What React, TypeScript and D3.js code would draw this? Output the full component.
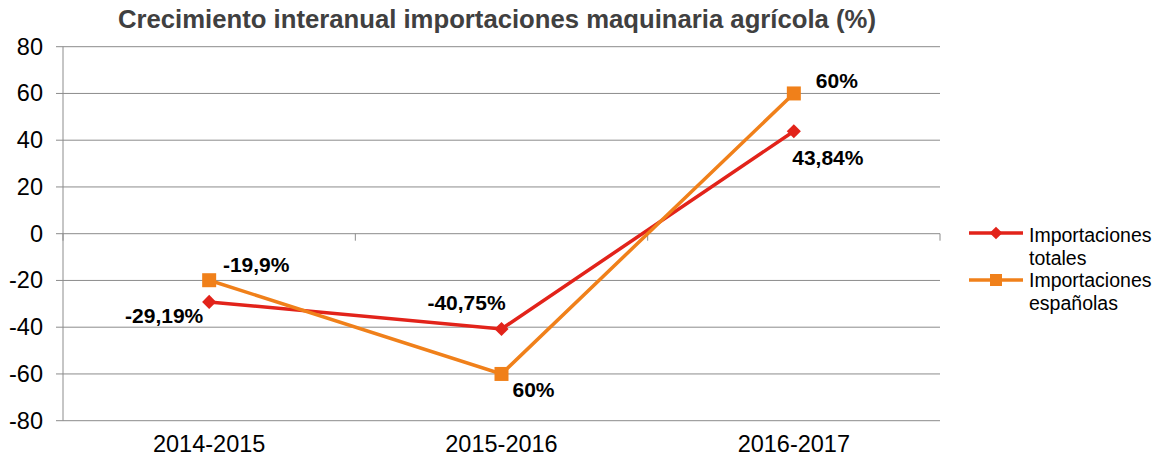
import React from "react";
import * as d3 from "d3";

const categories = ["2014-2015", "2015-2016", "2016-2017"];
const totales = [-29.19, -40.75, 43.84];
const espanolas = [-19.9, -60, 60];
const totalesLabels = ["-29,19%", "-40,75%", "43,84%"];
const espanolasLabels = ["-19,9%", "60%", "60%"];
const yTicks = [-80, -60, -40, -20, 0, 20, 40, 60, 80];
const title = "Crecimiento interanual importaciones maquinaria agrícola (%)";

const RED = "#e2231a";
const ORANGE = "#f0801a";
const GRID = "#8c8c8c";
const FONT = "'Liberation Sans', Arial, sans-serif";

export default function App() {
  const W = 1168, H = 459;
  const left = 63, right = 940, top = 46.7, bottom = 420.7;
  const x = d3.scaleBand<string>().domain(categories).range([left, right]).padding(0);
  const y = d3.scaleLinear().domain([-80, 80]).range([bottom, top]);
  const cx = (c: string) => (x(c) as number) + x.bandwidth() / 2;
  const line = d3.line<number>().x((_, i) => cx(categories[i])).y((v) => y(v));
  const boundaries = [left, ...categories.map((c) => (x(c) as number) + x.bandwidth())];

  const totOff = [
    { dx: -45, dy: 21 },
    { dx: -35, dy: -19 },
    { dx: 34, dy: 34 },
  ];
  const espOff = [
    { dx: 47, dy: -8 },
    { dx: 32, dy: 23 },
    { dx: 43, dy: -5 },
  ];

  return (
    <svg width={W} height={H} style={{ display: "block", position: "absolute", left: 0, top: 0 }}>
      <rect width={W} height={H} fill="#fff" />
      <text x={497} y={28} textAnchor="middle" fontFamily={FONT} fontWeight="bold" fontSize={25.7} fill="#404040">
        {title}
      </text>
      {yTicks.map((t) => (
        <g key={t}>
          <line x1={56} x2={right} y1={y(t)} y2={y(t)} stroke={GRID} strokeWidth={1} />
          <text x={43} y={y(t) + 8} textAnchor="end" fontFamily={FONT} fontSize={23.5} fill="#000">
            {t}
          </text>
        </g>
      ))}
      <line x1={left} x2={left} y1={top} y2={bottom} stroke={GRID} strokeWidth={1} />
      {boundaries.map((b, i) => (
        <line key={i} x1={b} x2={b} y1={y(0)} y2={y(0) + 7} stroke={GRID} strokeWidth={1} />
      ))}
      {categories.map((c) => (
        <text key={c} x={cx(c)} y={452} textAnchor="middle" fontFamily={FONT} fontSize={23.5} fill="#000">
          {c}
        </text>
      ))}
      <path d={line(totales) || ""} fill="none" stroke={RED} strokeWidth={3.5} />
      <path d={line(espanolas) || ""} fill="none" stroke={ORANGE} strokeWidth={3.5} />
      {totales.map((v, i) => (
        <rect key={i} x={-5} y={-5} width={10} height={10} fill={RED}
          transform={`translate(${cx(categories[i])},${y(v)}) rotate(45)`} />
      ))}
      {espanolas.map((v, i) => (
        <rect key={i} x={cx(categories[i]) - 7} y={y(v) - 7} width={14} height={14} fill={ORANGE} />
      ))}
      {totales.map((v, i) => (
        <text key={i} x={cx(categories[i]) + totOff[i].dx} y={y(v) + totOff[i].dy} textAnchor="middle"
          fontFamily={FONT} fontWeight="bold" fontSize={21} fill="#000">
          {totalesLabels[i]}
        </text>
      ))}
      {espanolas.map((v, i) => (
        <text key={i} x={cx(categories[i]) + espOff[i].dx} y={y(v) + espOff[i].dy} textAnchor="middle"
          fontFamily={FONT} fontWeight="bold" fontSize={21} fill="#000">
          {espanolasLabels[i]}
        </text>
      ))}
      <g>
        <line x1={969} x2={1023} y1={233} y2={233} stroke={RED} strokeWidth={3.5} />
        <rect x={-4.5} y={-4.5} width={9} height={9} fill={RED} transform={`translate(996,233) rotate(45)`} />
        <text x={1029} y={242} fontFamily={FONT} fontSize={19.5} fill="#000">Importaciones</text>
        <text x={1029} y={265} fontFamily={FONT} fontSize={19.5} fill="#000">totales</text>
        <line x1={969} x2={1023} y1={280} y2={280} stroke={ORANGE} strokeWidth={3.5} />
        <rect x={990} y={274} width={12} height={12} fill={ORANGE} />
        <text x={1029} y={287} fontFamily={FONT} fontSize={19.5} fill="#000">Importaciones</text>
        <text x={1029} y={310} fontFamily={FONT} fontSize={19.5} fill="#000">españolas</text>
      </g>
    </svg>
  );
}
